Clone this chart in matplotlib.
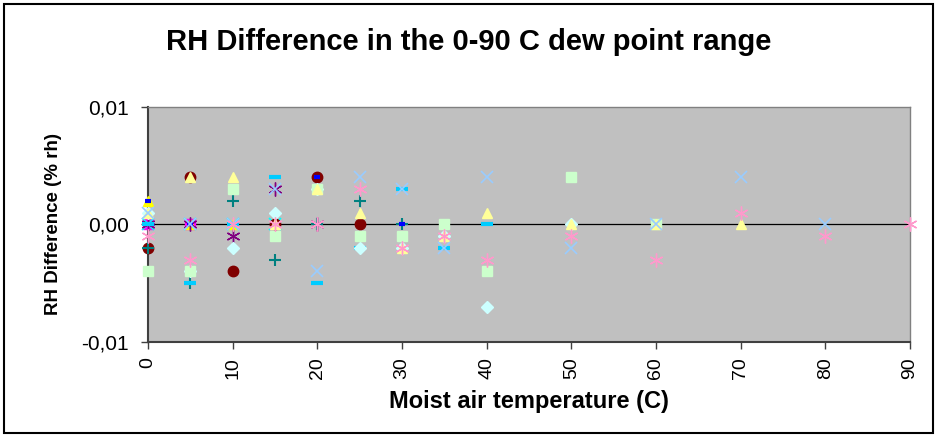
import matplotlib.pyplot as plt
from matplotlib.patches import Rectangle

plt.rcParams['font.family'] = ['Liberation Sans', 'DejaVu Sans']

# moist air temperature grid (C)
temps = [0, 5, 10, 15, 20, 25, 30, 35, 40, 50, 60, 70, 80, 90]

# RH difference per series (% rh), one value per temperature from 0 upwards
s_navy = [0]
s_magenta = [0, 0]
s_yellow = [0.002, 0, 0]
s_cyan = [0, 0, 0, 0]
s_purple = [0, 0, -0.001, 0.003, 0]
s_maroon = [-0.002, 0.004, -0.004, 0, 0.004, 0]
s_teal = [-0.002, -0.005, 0.002, -0.003, 0, 0.002, 0]
s_blue = [0.002, 0, 0, -0.001, 0.004, -0.002, 0, 0]
s_skyblue = [0, -0.005, 0, 0.004, -0.005, -0.002, 0.003, -0.002, 0]
s_turq = [0.001, -0.004, -0.002, 0.001, 0.003, -0.002, -0.002, -0.001, -0.007, 0]
s_green = [-0.004, -0.004, 0.003, -0.001, 0.003, -0.001, -0.001, 0, -0.004,
           0.004, 0]
s_lyellow = [0.001, 0.004, 0.004, 0, 0.003, 0.001, -0.002, -0.001, 0.001, 0,
             0, 0]
s_paleblue = [0.001, 0, 0, 0.003, -0.004, 0.004, 0.003, -0.002, 0.004,
              -0.002, 0, 0.004, 0]
s_rose = [-0.001, -0.003, 0, 0, 0, 0.003, -0.002, -0.001, -0.003, -0.001,
          -0.003, 0.001, -0.001, 0]

yticks = [-0.01, 0.0, 0.01]
ytick_labels = ['-0,01', '0,00', '0,01']
xticks = [0, 10, 20, 30, 40, 50, 60, 70, 80, 90]

star = (6, 2, 0)
# marker, colour, size, edge width
series = [
    (s_navy, 'D', '#000080', 6.5, 1),
    (s_magenta, 's', '#FF00FF', 7, 1),
    (s_yellow, '^', '#FFFF00', 7.5, 1),
    (s_cyan, 'x', '#00FFFF', 8, 1.2),
    (s_purple, star, '#800080', 10, 1.0),
    (s_maroon, 'o', '#800000', 7.5, 1),
    (s_teal, '+', '#008080', 9, 1.5),
    (s_blue, '_', '#0000FF', 5, 3),
    (s_skyblue, '_', '#00CCFF', 9, 3),
    (s_turq, 'D', '#CCFFFF', 6.5, 1),
    (s_green, 's', '#CCFFCC', 7, 1),
    (s_lyellow, '^', '#FFFF99', 7.5, 1),
    (s_paleblue, 'x', '#99CCFF', 8.5, 1.2),
    (s_rose, star, '#FF99CC', 10, 1.0),
]

fig = plt.figure(figsize=(9.37, 4.36), dpi=100)
ax = fig.add_axes([0.158, 0.2156, 0.813, 0.539])
ax.set_facecolor('#C0C0C0')

ax.axhline(0, color='black', lw=0.9, zorder=1)

for i, (vals, mk, col, ms, mew) in enumerate(series):
    xs = temps[:len(vals)]
    ax.plot(xs, vals, ls='none', marker=mk, mfc=col, mec=col, ms=ms,
            mew=mew, zorder=2 + i, clip_on=False)

ax.set_xlim(0, 90)
ax.set_ylim(-0.01, 0.01)
ax.set_xticks(xticks)
ax.set_xticklabels([str(t) for t in xticks], rotation=90, fontsize=14)
ax.set_yticks(yticks)
ax.set_yticklabels(ytick_labels, fontsize=15)
ax.tick_params(axis='both', direction='out', length=5, width=1,
               color='#404040')
ax.tick_params(axis='y', pad=9)
ax.tick_params(axis='x', pad=6)

for side in ('top', 'right'):
    ax.spines[side].set_color('#808080')
    ax.spines[side].set_linewidth(1)
for side in ('left', 'bottom'):
    ax.spines[side].set_color('#404040')
    ax.spines[side].set_linewidth(1.5)

ax.set_xlabel('Moist air temperature (C)', fontsize=17, fontweight='bold',
              labelpad=8)
ax.set_ylabel('RH Difference (% rh)', fontsize=13.5, fontweight='bold',
              labelpad=14)
fig.text(0.5, 0.903, 'RH Difference in the 0-90 C dew point range',
         ha='center', va='center', fontsize=21, fontweight='bold')

fig.patches.append(Rectangle((0.004, 0.007), 0.992, 0.984,
                             transform=fig.transFigure, fill=False,
                             edgecolor='black', lw=1.5))

fig.savefig('out.png', dpi=100)
